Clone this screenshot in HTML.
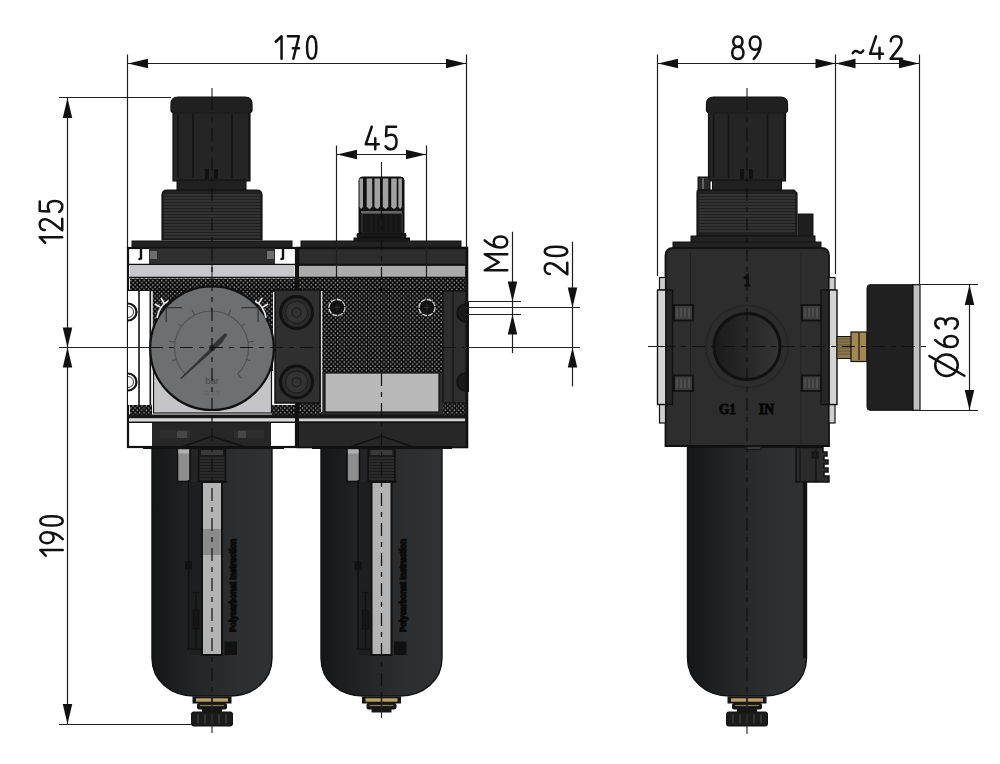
<!DOCTYPE html>
<html><head><meta charset="utf-8"><style>
html,body{margin:0;padding:0;background:#fff;width:1000px;height:764px;overflow:hidden;font-family:"Liberation Sans",sans-serif;}
svg{display:block}
</style></head><body>
<svg width="1000" height="764" viewBox="0 0 1000 764">
<defs>
<pattern id="dots" width="4.4" height="4.4" patternUnits="userSpaceOnUse">
<rect width="4.4" height="4.4" fill="#080808"/><circle cx="1.1" cy="1.1" r="0.8" fill="#a0a0a0"/><circle cx="3.3" cy="3.3" r="0.8" fill="#a0a0a0"/>
</pattern>
<linearGradient id="bowl" x1="0" x2="1" y1="0" y2="0">
<stop offset="0" stop-color="#151617"/><stop offset="0.35" stop-color="#232425"/><stop offset="0.7" stop-color="#2c2e30"/><stop offset="1" stop-color="#2f3133"/>
</linearGradient>
<linearGradient id="port" x1="0" x2="1" y1="0" y2="0">
<stop offset="0" stop-color="#1a1a1a"/><stop offset="1" stop-color="#353535"/>
</linearGradient>
<linearGradient id="knob" x1="0" x2="1" y1="0" y2="0">
<stop offset="0" stop-color="#222"/><stop offset="0.5" stop-color="#2e2e2e"/><stop offset="1" stop-color="#2a2a2a"/>
</linearGradient>
</defs>
<rect width="1000" height="764" fill="#fff"/>

<path d="M173,181 L173,113 L171,111 L171,104 Q171,97 178,97 L245,97 Q252,97 252,104 L252,111 L250,113 L250,181 Z" fill="#202020" stroke="#111" stroke-width="1.2"/>
<rect x="174" y="113.5" width="75" height="66.5" fill="#252525"/>
<line x1="178" y1="114" x2="178" y2="178" stroke="#141414" stroke-width="1.6" />
<line x1="193" y1="114" x2="193" y2="178" stroke="#141414" stroke-width="1.6" />
<line x1="232" y1="114" x2="232" y2="178" stroke="#141414" stroke-width="1.6" />
<line x1="249" y1="114" x2="249" y2="178" stroke="#141414" stroke-width="1.6" />
<line x1="174" y1="113" x2="249" y2="113" stroke="#1a1a1a" stroke-width="1" />
<rect x="205" y="169" width="4" height="10" fill="#111" />
<rect x="214" y="169" width="4" height="10" fill="#111" />
<rect x="177" y="180" width="69" height="10" fill="#202020" stroke="#111" stroke-width="1"/>
<path d="M162,240 L162,195 Q162,190 167,190 L257,190 Q262,190 262,195 L262,240 Z" fill="#202020" stroke="#111" stroke-width="1.2"/>
<line x1="164" y1="195" x2="260" y2="195" stroke="#444" stroke-width="1.0" />
<line x1="164" y1="198.0" x2="260" y2="198.0" stroke="#444" stroke-width="1.0" />
<line x1="164" y1="201.0" x2="260" y2="201.0" stroke="#444" stroke-width="1.0" />
<line x1="164" y1="204.0" x2="260" y2="204.0" stroke="#444" stroke-width="1.0" />
<line x1="164" y1="207.0" x2="260" y2="207.0" stroke="#444" stroke-width="1.0" />
<line x1="164" y1="210.0" x2="260" y2="210.0" stroke="#444" stroke-width="1.0" />
<line x1="164" y1="213.0" x2="260" y2="213.0" stroke="#444" stroke-width="1.0" />
<line x1="164" y1="216.0" x2="260" y2="216.0" stroke="#444" stroke-width="1.0" />
<line x1="164" y1="219.0" x2="260" y2="219.0" stroke="#444" stroke-width="1.0" />
<line x1="164" y1="222.0" x2="260" y2="222.0" stroke="#444" stroke-width="1.0" />
<line x1="164" y1="225.0" x2="260" y2="225.0" stroke="#444" stroke-width="1.0" />
<line x1="164" y1="228.0" x2="260" y2="228.0" stroke="#444" stroke-width="1.0" />
<line x1="164" y1="231.0" x2="260" y2="231.0" stroke="#444" stroke-width="1.0" />
<line x1="164" y1="234.0" x2="260" y2="234.0" stroke="#444" stroke-width="1.0" />
<line x1="164" y1="237.0" x2="260" y2="237.0" stroke="#444" stroke-width="1.0" />
<rect x="132" y="241" width="160" height="7" fill="#232323" stroke="#111" stroke-width="1"/>
<rect x="128" y="248" width="168" height="199" fill="#fff" stroke="#111" stroke-width="2.2" />
<rect x="149" y="248.5" width="126" height="16" fill="#2f2f2f" />
<rect x="150" y="251" width="7" height="8" fill="#6e6e6e" />
<rect x="267" y="251" width="7" height="8" fill="#6e6e6e" />
<path d="M141,249.5 L141,258.5 L139.5,259" fill="none" stroke="#111" stroke-width="2.4" stroke-linecap="round"/>
<path d="M283,249.5 L283,258.5 L281.5,259" fill="none" stroke="#111" stroke-width="2.4" stroke-linecap="round"/>
<line x1="128" y1="264.5" x2="296" y2="264.5" stroke="#111" stroke-width="1.6" />
<rect x="130" y="266" width="164" height="11" fill="#c8c8cc" />
<line x1="212" y1="265" x2="212" y2="277" stroke="#444" stroke-width="1.2" />
<line x1="128" y1="277.5" x2="296" y2="277.5" stroke="#111" stroke-width="1.6" />
<rect x="130" y="278.5" width="165" height="12" fill="url(#dots)" />
<line x1="128" y1="290.8" x2="296" y2="290.8" stroke="#111" stroke-width="2" />
<line x1="128" y1="404.5" x2="152" y2="404.5" stroke="#111" stroke-width="2" />
<rect x="128" y="291" width="22" height="114" fill="#fff" />
<line x1="139" y1="291" x2="139" y2="405" stroke="#111" stroke-width="1.6" />
<line x1="150.5" y1="291" x2="150.5" y2="405" stroke="#111" stroke-width="2" />
<path d="M128,303.5 A8.5,8.5 0 0 1 128,320.5" fill="none" stroke="#111" stroke-width="2.2"/>
<path d="M128,306.5 A5.5,5.5 0 0 1 128,317.5" fill="none" stroke="#333" stroke-width="1"/>
<path d="M128,373.5 A8.5,8.5 0 0 1 128,390.5" fill="none" stroke="#111" stroke-width="2.2"/>
<path d="M128,376.5 A5.5,5.5 0 0 1 128,387.5" fill="none" stroke="#333" stroke-width="1"/>
<rect x="152" y="291" width="121" height="80" fill="url(#dots)" />
<rect x="153.5" y="365" width="118" height="48" fill="#c5c5c7" stroke="#111" stroke-width="1.2" />
<line x1="152" y1="291" x2="152" y2="413" stroke="#f0f0f0" stroke-width="1.5" />
<circle cx="212" cy="348.2" r="61.8" fill="#6d6f71" stroke="#111" stroke-width="2.2"/>
<path d="M185.3,374.2 A37,37 0 1 1 237.7,374.2" fill="none" stroke="#505254" stroke-width="1.1"/>
<line x1="185.3" y1="374.2" x2="181.1" y2="378.4" stroke="#4a4c4e" stroke-width="1.1" />
<line x1="176.3" y1="359.4" x2="172.5" y2="360.7" stroke="#4a4c4e" stroke-width="1.1" />
<line x1="175.0" y1="342.2" x2="169.0" y2="341.3" stroke="#4a4c4e" stroke-width="1.1" />
<line x1="181.6" y1="326.3" x2="178.3" y2="323.9" stroke="#4a4c4e" stroke-width="1.1" />
<line x1="194.7" y1="315.0" x2="192.0" y2="309.7" stroke="#4a4c4e" stroke-width="1.1" />
<line x1="211.5" y1="311.0" x2="211.5" y2="307.0" stroke="#4a4c4e" stroke-width="1.1" />
<line x1="228.3" y1="315.0" x2="231.0" y2="309.7" stroke="#4a4c4e" stroke-width="1.1" />
<line x1="241.4" y1="326.3" x2="244.7" y2="323.9" stroke="#4a4c4e" stroke-width="1.1" />
<line x1="248.0" y1="342.2" x2="254.0" y2="341.3" stroke="#4a4c4e" stroke-width="1.1" />
<line x1="246.7" y1="359.4" x2="250.5" y2="360.7" stroke="#4a4c4e" stroke-width="1.1" />
<line x1="237.7" y1="374.2" x2="241.9" y2="378.4" stroke="#4a4c4e" stroke-width="1.1" />
<path d="M182,307.6 L166.2,307.6 L166.2,322 M241.3,307.6 L258.1,307.6 L258.1,322" fill="none" stroke="#333" stroke-width="1.2"/>
<path d="M157,318 Q159,306 168,301 M160,307 L155,304 M164,303 L161,298" fill="none" stroke="#e8e8e8" stroke-width="1.6"/>
<path d="M266,318 Q264,306 255,301 M263,307 L268,304 M259,303 L262,298" fill="none" stroke="#e8e8e8" stroke-width="1.6"/>
<path d="M181.2,378.3 L220,340 L226,334 L222,342 Z" fill="#333436" stroke="#333436" stroke-width="1.2" stroke-linejoin="round"/>
<path d="M212,348 L226,334.5" stroke="#333436" stroke-width="3.5"/>
<circle cx="212" cy="348" r="3" fill="#2a2a2a"/>
<text x="212" y="383.5" font-size="9.5" fill="#45474a" text-anchor="middle" font-family="Liberation Sans">bar</text>
<text x="212" y="395" font-size="6" fill="#5e6062" text-anchor="middle" font-family="Liberation Sans">Cl.2.5</text>
<rect x="130" y="405" width="22" height="10" fill="url(#dots)" />
<rect x="272" y="405" width="23" height="10" fill="url(#dots)" />
<rect x="128" y="414.5" width="168" height="4" fill="#161616" />
<rect x="130" y="418.5" width="165" height="3" fill="#d8d8d8" />
<line x1="128" y1="422.2" x2="296" y2="422.2" stroke="#111" stroke-width="1.6" />
<rect x="152" y="423" width="119" height="23.5" fill="#262626" />
<rect x="160" y="430" width="30" height="8" fill="#2e2e2e" />
<rect x="234" y="430" width="30" height="8" fill="#2e2e2e" />
<rect x="177" y="431" width="10" height="7" fill="#474747" />
<rect x="238" y="431" width="8" height="7" fill="#474747" />
<path d="M182.8,446.5 L212,436.3 L244,446.5" fill="none" stroke="#111" stroke-width="1.4"/>
<rect x="359" y="177" width="45" height="58" rx="3.5" fill="#121212" stroke="#0d0d0d" stroke-width="1"/>
<path d="M359.5,178.5 L363.0,178.5 L363.0,206.5 Q361.25,211 359.5,206.5 Z" fill="#a2a2a2"/>
<path d="M366.7,178.5 L372.2,178.5 L372.2,206.5 Q369.45,211 366.7,206.5 Z" fill="#a2a2a2"/>
<path d="M374.5,178.5 L380.0,178.5 L380.0,206.5 Q377.25,211 374.5,206.5 Z" fill="#a2a2a2"/>
<path d="M382.8,178.5 L388.3,178.5 L388.3,206.5 Q385.55,211 382.8,206.5 Z" fill="#a2a2a2"/>
<path d="M391.2,178.5 L396.7,178.5 L396.7,206.5 Q393.95,211 391.2,206.5 Z" fill="#a2a2a2"/>
<path d="M398.4,178.5 L401.9,178.5 L401.9,206.5 Q400.15,211 398.4,206.5 Z" fill="#a2a2a2"/>
<line x1="361" y1="212" x2="402" y2="212" stroke="#bbb" stroke-width="1" />
<rect x="362" y="213.5" width="40" height="19.5" fill="#151515" stroke="#555" stroke-width="0.8"/>
<line x1="366" y1="215" x2="366" y2="232" stroke="#262626" stroke-width="0.7" />
<line x1="371" y1="215" x2="371" y2="232" stroke="#262626" stroke-width="0.7" />
<line x1="376" y1="215" x2="376" y2="232" stroke="#262626" stroke-width="0.7" />
<line x1="381" y1="215" x2="381" y2="232" stroke="#262626" stroke-width="0.7" />
<line x1="386" y1="215" x2="386" y2="232" stroke="#262626" stroke-width="0.7" />
<line x1="391" y1="215" x2="391" y2="232" stroke="#262626" stroke-width="0.7" />
<line x1="396" y1="215" x2="396" y2="232" stroke="#262626" stroke-width="0.7" />
<line x1="401" y1="215" x2="401" y2="232" stroke="#262626" stroke-width="0.7" />
<rect x="357" y="233" width="49" height="5" rx="2" fill="#171717" stroke="#0d0d0d" stroke-width="1"/>
<rect x="354" y="238" width="55.5" height="4" fill="#1b1b1b" stroke="#0d0d0d" stroke-width="1"/>
<rect x="301" y="241" width="160" height="7" fill="#232323" stroke="#111" stroke-width="1"/>
<rect x="298" y="248" width="169" height="199" fill="#2c2c2c" stroke="#111" stroke-width="2.6" />
<line x1="298" y1="264.5" x2="466" y2="264.5" stroke="#111" stroke-width="1.6" />
<rect x="299" y="266" width="166" height="11" fill="#ababab" />
<line x1="298" y1="277.5" x2="466" y2="277.5" stroke="#111" stroke-width="1.6" />
<rect x="299" y="278.5" width="166" height="12" fill="url(#dots)" />
<line x1="298" y1="290.5" x2="466" y2="290.5" stroke="#111" stroke-width="1.2" />
<line x1="296.7" y1="248" x2="296.7" y2="447" stroke="#111" stroke-width="3.4" />
<rect x="321" y="291" width="122" height="82" fill="url(#dots)" />
<line x1="321.5" y1="291" x2="321.5" y2="412" stroke="#ddd" stroke-width="1.5" />
<rect x="325" y="373" width="114" height="39" fill="#b9b9b9" stroke="#111" stroke-width="1.2" />
<rect x="299" y="403" width="22" height="12" fill="url(#dots)" />
<rect x="443" y="403" width="22" height="12" fill="url(#dots)" />
<rect x="443" y="291" width="23" height="112" fill="#2d2d2d" stroke="#111" stroke-width="1.2" />
<line x1="453" y1="291" x2="453" y2="403" stroke="#111" stroke-width="1.2" />
<path d="M466,304 A9,9 0 0 0 466,322 Z" fill="#1a1a1a" stroke="#111" stroke-width="1.5"/>
<path d="M466,373 A9,9 0 0 0 466,391 Z" fill="#1a1a1a" stroke="#111" stroke-width="1.5"/>
<line x1="467.5" y1="302" x2="467.5" y2="392" stroke="#111" stroke-width="3" />
<circle cx="337" cy="307.5" r="8" fill="#121212" stroke="#d8d8d8" stroke-width="1.3" stroke-dasharray="5 1.2"/>
<path d="M334,307.5 L340,307.5 M337,304.5 L337,310.5" stroke="#333" stroke-width="0.9"/>
<circle cx="427" cy="307.5" r="8" fill="#121212" stroke="#d8d8d8" stroke-width="1.3" stroke-dasharray="5 1.2"/>
<path d="M424,307.5 L430,307.5 M427,304.5 L427,310.5" stroke="#333" stroke-width="0.9"/>
<rect x="298" y="414.5" width="168" height="4" fill="#161616" />
<rect x="299" y="418.5" width="166" height="3" fill="#d0d0d0" />
<line x1="298" y1="422.2" x2="466" y2="422.2" stroke="#111" stroke-width="1.6" />
<rect x="299" y="423" width="166" height="23.5" fill="#272727" />
<path d="M351,446.5 L381.5,436 L412,446.5" fill="none" stroke="#111" stroke-width="1.4"/>
<rect x="275" y="290" width="45" height="113" fill="#2f2f2f" stroke="#111" stroke-width="1.5" />
<circle cx="296.5" cy="312.5" r="16" fill="#2b2b2b" stroke="#111" stroke-width="3"/>
<circle cx="296.5" cy="312.5" r="11" fill="#333" stroke="#1a1a1a" stroke-width="1"/>
<polygon points="300.8,315.0 296.5,317.5 292.2,315.0 292.2,310.0 296.5,307.5 300.8,310.0" fill="none" stroke="#1a1a1a" stroke-width="1"/>
<circle cx="296.5" cy="382" r="16" fill="#2b2b2b" stroke="#111" stroke-width="3"/>
<circle cx="296.5" cy="382" r="11" fill="#333" stroke="#1a1a1a" stroke-width="1"/>
<polygon points="300.8,384.5 296.5,387.0 292.2,384.5 292.2,379.5 296.5,377.0 300.8,379.5" fill="none" stroke="#1a1a1a" stroke-width="1"/>
<path d="M152,447 L272,447 L272,658 C272,680.8 253.1,696 230,696 L194,696 C170.9,696 152,680.8 152,658 Z" fill="url(#bowl)" stroke="#111" stroke-width="1.4"/>
<rect x="198.5" y="448.5" width="27" height="33.5" fill="#1a1a1a" stroke="#111" stroke-width="1.4" />
<rect x="201" y="450" width="22" height="5" fill="#3a3a3a" />
<line x1="199.5" y1="458" x2="224.5" y2="458" stroke="#3c3c3c" stroke-width="1.0" />
<line x1="199.5" y1="461" x2="224.5" y2="461" stroke="#3c3c3c" stroke-width="1.0" />
<line x1="199.5" y1="464" x2="224.5" y2="464" stroke="#3c3c3c" stroke-width="1.0" />
<line x1="199.5" y1="467" x2="224.5" y2="467" stroke="#3c3c3c" stroke-width="1.0" />
<line x1="199.5" y1="470" x2="224.5" y2="470" stroke="#3c3c3c" stroke-width="1.0" />
<line x1="199.5" y1="473" x2="224.5" y2="473" stroke="#3c3c3c" stroke-width="1.0" />
<line x1="199.5" y1="476" x2="224.5" y2="476" stroke="#3c3c3c" stroke-width="1.0" />
<line x1="199.5" y1="479" x2="224.5" y2="479" stroke="#3c3c3c" stroke-width="1.0" />
<line x1="196.5" y1="481.8" x2="227.5" y2="481.8" stroke="#111" stroke-width="1.5" />
<rect x="190" y="482" width="12" height="173" fill="#1d1e1f" />
<rect x="202" y="482" width="20" height="173" fill="#b3b3b3" stroke="#111" stroke-width="2" />
<rect x="177.5" y="448.5" width="12.5" height="33" fill="#8e8e8e" stroke="#111" stroke-width="1.6" />
<rect x="178.5" y="449.5" width="10.5" height="4" fill="#b0b0b0" />
<line x1="188.5" y1="480" x2="188.5" y2="649" stroke="#111" stroke-width="1.6" />
<rect x="185" y="561" width="7" height="8.5" fill="#111" />
<line x1="196" y1="592" x2="196" y2="649" stroke="#111" stroke-width="1.3" />
<line x1="193" y1="592.5" x2="199" y2="592.5" stroke="#111" stroke-width="1.3" />
<rect x="193" y="610" width="6" height="19" fill="#151515" stroke="#111" stroke-width="1" />
<line x1="187" y1="649" x2="201" y2="649" stroke="#111" stroke-width="1.5" />
<rect x="224.5" y="641.5" width="12.5" height="13.5" fill="#111" />
<text transform="translate(236.2,632) rotate(-90)" font-size="8.5" font-weight="bold" fill="#0a0a0a" stroke="#0a0a0a" stroke-width="1.3" font-family="Liberation Sans" textLength="93" lengthAdjust="spacingAndGlyphs">Polycarbonat Instruction</text>
<rect x="203.2" y="529" width="17.6" height="26" fill="#8a8a8a" />
<line x1="143" y1="447.5" x2="284" y2="447.5" stroke="#111" stroke-width="3" />
<rect x="192.5" y="696.5" width="39" height="7" fill="#141414" />
<rect x="196" y="698.3" width="15.3" height="3.4" fill="#b8a06a" />
<rect x="212.7" y="698.3" width="15.3" height="3.4" fill="#b8a06a" />
<rect x="197" y="703" width="30" height="6.5" rx="2" fill="#161616"/>
<line x1="200" y1="705.5" x2="224" y2="705.5" stroke="#8a7a55" stroke-width="1.2" />
<rect x="202" y="709" width="20" height="3.5" fill="#161616" />
<rect x="191.5" y="712" width="41" height="14" rx="2" fill="#1a1a1a" stroke="#111" stroke-width="1"/>
<line x1="198" y1="714.5" x2="198" y2="723.5" stroke="#4a4a4a" stroke-width="1.1" />
<line x1="205" y1="714.5" x2="205" y2="723.5" stroke="#4a4a4a" stroke-width="1.1" />
<line x1="212" y1="714.5" x2="212" y2="723.5" stroke="#4a4a4a" stroke-width="1.1" />
<line x1="219" y1="714.5" x2="219" y2="723.5" stroke="#4a4a4a" stroke-width="1.1" />
<line x1="226" y1="714.5" x2="226" y2="723.5" stroke="#4a4a4a" stroke-width="1.1" />
<path d="M321,447 L442,447 L442,658 C442,680.8 423.1,696 400,696 L363,696 C339.9,696 321,680.8 321,658 Z" fill="url(#bowl)" stroke="#111" stroke-width="1.4"/>
<rect x="368.0" y="448.5" width="27" height="33.5" fill="#1a1a1a" stroke="#111" stroke-width="1.4" />
<rect x="370.5" y="450" width="22" height="5" fill="#3a3a3a" />
<line x1="369.0" y1="458" x2="394.0" y2="458" stroke="#3c3c3c" stroke-width="1.0" />
<line x1="369.0" y1="461" x2="394.0" y2="461" stroke="#3c3c3c" stroke-width="1.0" />
<line x1="369.0" y1="464" x2="394.0" y2="464" stroke="#3c3c3c" stroke-width="1.0" />
<line x1="369.0" y1="467" x2="394.0" y2="467" stroke="#3c3c3c" stroke-width="1.0" />
<line x1="369.0" y1="470" x2="394.0" y2="470" stroke="#3c3c3c" stroke-width="1.0" />
<line x1="369.0" y1="473" x2="394.0" y2="473" stroke="#3c3c3c" stroke-width="1.0" />
<line x1="369.0" y1="476" x2="394.0" y2="476" stroke="#3c3c3c" stroke-width="1.0" />
<line x1="369.0" y1="479" x2="394.0" y2="479" stroke="#3c3c3c" stroke-width="1.0" />
<line x1="366.0" y1="481.8" x2="397.0" y2="481.8" stroke="#111" stroke-width="1.5" />
<rect x="359.5" y="482" width="12" height="173" fill="#1d1e1f" />
<rect x="371.5" y="482" width="20" height="173" fill="#b3b3b3" stroke="#111" stroke-width="2" />
<rect x="347.0" y="448.5" width="12.5" height="33" fill="#8e8e8e" stroke="#111" stroke-width="1.6" />
<rect x="348.0" y="449.5" width="10.5" height="4" fill="#b0b0b0" />
<line x1="358.0" y1="480" x2="358.0" y2="649" stroke="#111" stroke-width="1.6" />
<rect x="354.5" y="561" width="7" height="8.5" fill="#111" />
<line x1="365.5" y1="592" x2="365.5" y2="649" stroke="#111" stroke-width="1.3" />
<line x1="362.5" y1="592.5" x2="368.5" y2="592.5" stroke="#111" stroke-width="1.3" />
<rect x="362.5" y="610" width="6" height="19" fill="#151515" stroke="#111" stroke-width="1" />
<line x1="356.5" y1="649" x2="370.5" y2="649" stroke="#111" stroke-width="1.5" />
<rect x="394.0" y="641.5" width="12.5" height="13.5" fill="#111" />
<text transform="translate(405.7,632) rotate(-90)" font-size="8.5" font-weight="bold" fill="#0a0a0a" stroke="#0a0a0a" stroke-width="1.3" font-family="Liberation Sans" textLength="93" lengthAdjust="spacingAndGlyphs">Polycarbonat Instruction</text>
<line x1="312" y1="447.5" x2="452" y2="447.5" stroke="#111" stroke-width="3" />
<rect x="362.0" y="696.5" width="39" height="7" fill="#141414" />
<rect x="365.5" y="698.3" width="15.3" height="3.4" fill="#b8a06a" />
<rect x="382.2" y="698.3" width="15.3" height="3.4" fill="#b8a06a" />
<rect x="366.5" y="703" width="30" height="6.5" rx="2" fill="#161616"/>
<line x1="369.5" y1="705.5" x2="393.5" y2="705.5" stroke="#8a7a55" stroke-width="1.2" />
<rect x="371.5" y="709" width="20" height="3.5" fill="#161616" />
<path d="M708.5,181 L708.5,113 L706.5,111 L706.5,104 Q706.5,97 713.5,97 L780.5,97 Q787.5,97 787.5,104 L787.5,111 L785.5,113 L785.5,181 Z" fill="#202020" stroke="#111" stroke-width="1.2"/>
<rect x="709.5" y="113.5" width="75" height="66.5" fill="#252525"/>
<line x1="713.5" y1="114" x2="713.5" y2="178" stroke="#141414" stroke-width="1.6" />
<line x1="728.5" y1="114" x2="728.5" y2="178" stroke="#141414" stroke-width="1.6" />
<line x1="767.5" y1="114" x2="767.5" y2="178" stroke="#141414" stroke-width="1.6" />
<line x1="784.5" y1="114" x2="784.5" y2="178" stroke="#141414" stroke-width="1.6" />
<line x1="709.5" y1="113" x2="784.5" y2="113" stroke="#1a1a1a" stroke-width="1" />
<rect x="740" y="169" width="4" height="10" fill="#111" />
<rect x="749" y="169" width="4" height="10" fill="#111" />
<rect x="712.5" y="180" width="69" height="10" fill="#202020" stroke="#111" stroke-width="1"/>
<rect x="698" y="177" width="12" height="13" fill="#2a2a2a" stroke="#111" stroke-width="1" />
<line x1="703" y1="178" x2="703" y2="189" stroke="#777" stroke-width="1.5" />
<path d="M697,236 L697,192 Q697,190 699,190 L794,190 L797,193 L797,236 Z" fill="#202020" stroke="#111" stroke-width="1.2"/>
<line x1="699" y1="195" x2="795" y2="195" stroke="#444" stroke-width="1.0" />
<line x1="699" y1="198.0" x2="795" y2="198.0" stroke="#444" stroke-width="1.0" />
<line x1="699" y1="201.0" x2="795" y2="201.0" stroke="#444" stroke-width="1.0" />
<line x1="699" y1="204.0" x2="795" y2="204.0" stroke="#444" stroke-width="1.0" />
<line x1="699" y1="207.0" x2="795" y2="207.0" stroke="#444" stroke-width="1.0" />
<line x1="699" y1="210.0" x2="795" y2="210.0" stroke="#444" stroke-width="1.0" />
<line x1="699" y1="213.0" x2="795" y2="213.0" stroke="#444" stroke-width="1.0" />
<line x1="699" y1="216.0" x2="795" y2="216.0" stroke="#444" stroke-width="1.0" />
<line x1="699" y1="219.0" x2="795" y2="219.0" stroke="#444" stroke-width="1.0" />
<line x1="699" y1="222.0" x2="795" y2="222.0" stroke="#444" stroke-width="1.0" />
<line x1="699" y1="225.0" x2="795" y2="225.0" stroke="#444" stroke-width="1.0" />
<line x1="699" y1="228.0" x2="795" y2="228.0" stroke="#444" stroke-width="1.0" />
<line x1="699" y1="231.0" x2="795" y2="231.0" stroke="#444" stroke-width="1.0" />
<rect x="798" y="214" width="15" height="24" fill="#1e1e1e" stroke="#111" stroke-width="1" />
<rect x="691" y="236" width="124" height="7" fill="#232323" stroke="#111" stroke-width="1" />
<rect x="673" y="242" width="148" height="6.5" fill="#222" stroke="#111" stroke-width="1" />
<path d="M665.5,446 L665.5,256 Q665.5,248 673.5,248 L821,248 Q829,248 829,256 L829,446 Z" fill="#2d2d2d" stroke="#111" stroke-width="1.8"/>
<line x1="690.5" y1="252" x2="690.5" y2="444" stroke="#222" stroke-width="1" />
<line x1="801" y1="252" x2="801" y2="444" stroke="#222" stroke-width="1" />
<rect x="659.5" y="277.5" width="6.0" height="12.5" fill="#cfcfcf" stroke="#111" stroke-width="1.2" />
<rect x="659.5" y="404.5" width="6.0" height="18.5" fill="#cfcfcf" stroke="#111" stroke-width="1.2" />
<rect x="829" y="277.5" width="6" height="12.5" fill="#cfcfcf" stroke="#111" stroke-width="1.2" />
<rect x="829" y="404.5" width="6" height="18.5" fill="#cfcfcf" stroke="#111" stroke-width="1.2" />
<rect x="657.5" y="290" width="8.5" height="114.5" fill="#d4d4d4" stroke="#111" stroke-width="1.4" />
<rect x="666" y="290" width="6.5" height="114.5" fill="#262626" stroke="#111" stroke-width="1.4" />
<rect x="829" y="290" width="8" height="114.5" fill="#d4d4d4" stroke="#111" stroke-width="1.4" />
<rect x="821" y="290" width="8" height="114.5" fill="#262626" stroke="#111" stroke-width="1.4" />
<rect x="674" y="305" width="19" height="15.5" fill="#3c3c3c" stroke="#111" stroke-width="1.8" />
<line x1="677" y1="308" x2="677" y2="317.5" stroke="#5a5a5a" stroke-width="1.2" />
<line x1="681" y1="308" x2="681" y2="317.5" stroke="#5a5a5a" stroke-width="1.2" />
<line x1="685" y1="308" x2="685" y2="317.5" stroke="#5a5a5a" stroke-width="1.2" />
<line x1="689" y1="308" x2="689" y2="317.5" stroke="#5a5a5a" stroke-width="1.2" />
<rect x="674" y="375.5" width="19" height="15.5" fill="#3c3c3c" stroke="#111" stroke-width="1.8" />
<line x1="677" y1="378.5" x2="677" y2="388.0" stroke="#5a5a5a" stroke-width="1.2" />
<line x1="681" y1="378.5" x2="681" y2="388.0" stroke="#5a5a5a" stroke-width="1.2" />
<line x1="685" y1="378.5" x2="685" y2="388.0" stroke="#5a5a5a" stroke-width="1.2" />
<line x1="689" y1="378.5" x2="689" y2="388.0" stroke="#5a5a5a" stroke-width="1.2" />
<rect x="802" y="305" width="19" height="15.5" fill="#3c3c3c" stroke="#111" stroke-width="1.8" />
<line x1="805" y1="308" x2="805" y2="317.5" stroke="#5a5a5a" stroke-width="1.2" />
<line x1="809" y1="308" x2="809" y2="317.5" stroke="#5a5a5a" stroke-width="1.2" />
<line x1="813" y1="308" x2="813" y2="317.5" stroke="#5a5a5a" stroke-width="1.2" />
<line x1="817" y1="308" x2="817" y2="317.5" stroke="#5a5a5a" stroke-width="1.2" />
<rect x="802" y="375.5" width="19" height="15.5" fill="#3c3c3c" stroke="#111" stroke-width="1.8" />
<line x1="805" y1="378.5" x2="805" y2="388.0" stroke="#5a5a5a" stroke-width="1.2" />
<line x1="809" y1="378.5" x2="809" y2="388.0" stroke="#5a5a5a" stroke-width="1.2" />
<line x1="813" y1="378.5" x2="813" y2="388.0" stroke="#5a5a5a" stroke-width="1.2" />
<line x1="817" y1="378.5" x2="817" y2="388.0" stroke="#5a5a5a" stroke-width="1.2" />
<circle cx="747" cy="346.5" r="41" fill="none" stroke="#262626" stroke-width="1.5"/>
<circle cx="747" cy="346.5" r="33" fill="url(#port)" stroke="#111" stroke-width="3"/>
<path d="M744,278.5 L747.5,275.5 L747.5,285 M744.5,285.5 L750.5,285.5" fill="none" stroke="#0d0d0d" stroke-width="2.6"/>
<text x="727.5" y="413.5" font-size="14" font-weight="bold" fill="#050505" stroke="#050505" stroke-width="0.8" text-anchor="middle" font-family="Liberation Serif" textLength="17" lengthAdjust="spacingAndGlyphs">G1</text>
<text x="766.5" y="413.5" font-size="14" font-weight="bold" fill="#050505" stroke="#050505" stroke-width="0.8" text-anchor="middle" font-family="Liberation Serif" textLength="15" lengthAdjust="spacingAndGlyphs">IN</text>
<path d="M687.5,447 L806.5,447 L806.5,658 C806.5,680.8 787.6,696 764.5,696 L729.5,696 C706.4,696 687.5,680.8 687.5,658 Z" fill="url(#bowl)" stroke="#111" stroke-width="1.4"/>
<line x1="804.5" y1="447" x2="804.5" y2="658" stroke="#111" stroke-width="3" />
<path d="M796,447.5 L823,447.5 L823,452 L827,452 L827,456 L824,456 L824,460 L828,460 L828,464 L824,464 L824,468 L828,468 L828,472 L824,472 L824,476 L829,476 L829,482 L796,482 Z" fill="#2a2a2a" stroke="#111" stroke-width="1.5"/>
<line x1="800" y1="449" x2="800" y2="481" stroke="#111" stroke-width="1" />
<line x1="816" y1="449" x2="816" y2="481" stroke="#111" stroke-width="1.2" />
<rect x="812" y="452" width="6" height="6" fill="#1a1a1a" stroke="#111" stroke-width="1" />
<rect x="745" y="446.5" width="16" height="3" fill="#3a3a3a" stroke="#111" stroke-width="0.8" />
<rect x="727.5" y="696.5" width="39" height="7" fill="#141414" />
<rect x="731" y="698.3" width="15.3" height="3.4" fill="#b8a06a" />
<rect x="747.7" y="698.3" width="15.3" height="3.4" fill="#b8a06a" />
<rect x="732" y="703" width="30" height="6.5" rx="2" fill="#161616"/>
<line x1="735" y1="705.5" x2="759" y2="705.5" stroke="#8a7a55" stroke-width="1.2" />
<rect x="737" y="709" width="20" height="3.5" fill="#161616" />
<rect x="726.5" y="712" width="41" height="14" rx="2" fill="#1a1a1a" stroke="#111" stroke-width="1"/>
<line x1="733" y1="714.5" x2="733" y2="723.5" stroke="#4a4a4a" stroke-width="1.1" />
<line x1="740" y1="714.5" x2="740" y2="723.5" stroke="#4a4a4a" stroke-width="1.1" />
<line x1="747" y1="714.5" x2="747" y2="723.5" stroke="#4a4a4a" stroke-width="1.1" />
<line x1="754" y1="714.5" x2="754" y2="723.5" stroke="#4a4a4a" stroke-width="1.1" />
<line x1="761" y1="714.5" x2="761" y2="723.5" stroke="#4a4a4a" stroke-width="1.1" />
<rect x="837" y="336.5" width="15" height="22" fill="#8c7a4e" stroke="#111" stroke-width="1" />
<line x1="838" y1="339" x2="851" y2="339" stroke="#5a4b2a" stroke-width="0.8" />
<line x1="838" y1="342" x2="851" y2="342" stroke="#5a4b2a" stroke-width="0.8" />
<line x1="838" y1="345" x2="851" y2="345" stroke="#5a4b2a" stroke-width="0.8" />
<line x1="838" y1="348" x2="851" y2="348" stroke="#5a4b2a" stroke-width="0.8" />
<line x1="838" y1="351" x2="851" y2="351" stroke="#5a4b2a" stroke-width="0.8" />
<line x1="838" y1="354" x2="851" y2="354" stroke="#5a4b2a" stroke-width="0.8" />
<rect x="851" y="332" width="16" height="29.5" fill="#a08850" stroke="#111" stroke-width="1.2" />
<line x1="859" y1="333" x2="859" y2="360" stroke="#3a2f18" stroke-width="1.5" />
<path d="M870,284.7 L913,284.7 L913,410.3 L870,410.3 Q867,410.3 867,407 L867,288 Q867,284.7 870,284.7 Z" fill="#202020" stroke="#111" stroke-width="1"/>
<rect x="913" y="284.7" width="7" height="125.6" fill="#c0c0c0" stroke="#111" stroke-width="1.2" />
<line x1="212" y1="88" x2="212" y2="98" stroke="#222" stroke-width="1.1" />
<line x1="212" y1="98" x2="212" y2="697" stroke="#111" stroke-width="1.2" stroke-dasharray="13 6 5 6"/>
<line x1="212" y1="697" x2="212" y2="733" stroke="#222" stroke-width="1.1" />
<line x1="381.5" y1="162" x2="381.5" y2="177" stroke="#222" stroke-width="1.1" />
<line x1="381.5" y1="177" x2="381.5" y2="291" stroke="#111" stroke-width="1.2" stroke-dasharray="13 6 5 6"/>
<line x1="381.5" y1="373" x2="381.5" y2="697" stroke="#111" stroke-width="1.2" stroke-dasharray="13 6 5 6"/>
<line x1="381.5" y1="697" x2="381.5" y2="718" stroke="#222" stroke-width="1.1" />
<line x1="747" y1="88" x2="747" y2="98" stroke="#222" stroke-width="1.1" />
<line x1="747" y1="98" x2="747" y2="697" stroke="#111" stroke-width="1.2" stroke-dasharray="13 6 5 6"/>
<line x1="747" y1="697" x2="747" y2="734" stroke="#222" stroke-width="1.1" />
<line x1="59" y1="347.5" x2="150" y2="347.5" stroke="#222" stroke-width="1.1" />
<line x1="150" y1="347.5" x2="321" y2="347.5" stroke="#111" stroke-width="1.2" stroke-dasharray="13 6 5 6"/>
<line x1="443" y1="347.5" x2="467" y2="347.5" stroke="#111" stroke-width="1.2" stroke-dasharray="13 6 5 6"/>
<line x1="467" y1="347.5" x2="580" y2="347.5" stroke="#222" stroke-width="1.1" />
<line x1="648" y1="346.5" x2="662" y2="346.5" stroke="#222" stroke-width="1.1" />
<line x1="662" y1="346.5" x2="929" y2="346.5" stroke="#111" stroke-width="1.2" stroke-dasharray="13 6 5 6"/>
<line x1="127.5" y1="54.5" x2="127.5" y2="248" stroke="#1e1e1e" stroke-width="1.2" />
<line x1="466.5" y1="54.5" x2="466.5" y2="248" stroke="#1e1e1e" stroke-width="1.2" />
<line x1="127.5" y1="63.5" x2="466.5" y2="63.5" stroke="#1e1e1e" stroke-width="1.2" />
<polygon points="128,63.5 148,58.75 148,68.25" fill="#111"/>
<polygon points="466,63.5 446,58.75 446,68.25" fill="#111"/>
<g transform="translate(274.5,35)" fill="none" stroke="#111" stroke-width="2.5" stroke-linecap="round" stroke-linejoin="round"><path d="M0,5.5 L5.8,0 L5.8,22.5" transform="translate(1.25,1.25)"/><path d="M0,0 L11,0 L5.5,22.5 M5,12 L11.2,12" transform="translate(13.35,1.25)"/><path d="M4.6,0 C8,0 9.3,4.5 9.3,11.25 C9.3,18 8,22.5 4.6,22.5 C1.3,22.5 0,18 0,11.25 C0,4.5 1.3,0 4.6,0 Z" transform="translate(32.55,1.25)"/></g>
<line x1="59" y1="97.5" x2="171" y2="97.5" stroke="#1e1e1e" stroke-width="1.2" />
<line x1="59" y1="724.5" x2="192" y2="724.5" stroke="#1e1e1e" stroke-width="1.2" />
<line x1="67.5" y1="97.5" x2="67.5" y2="724.5" stroke="#1e1e1e" stroke-width="1.2" />
<polygon points="67.5,98 62.75,118 72.25,118" fill="#111"/>
<polygon points="67.5,347.5 62.75,327.5 72.25,327.5" fill="#111"/>
<polygon points="67.5,347.5 62.75,367.5 72.25,367.5" fill="#111"/>
<polygon points="67.5,724 62.75,704 72.25,704" fill="#111"/>
<g transform="translate(38.5,244.2) rotate(-90)" fill="none" stroke="#111" stroke-width="2.5" stroke-linecap="round" stroke-linejoin="round"><path d="M0,5.5 L5.8,0 L5.8,22.5" transform="translate(1.25,1.25)"/><path d="M0.3,5 C0.3,2 2.5,0 5.6,0 C8.8,0 11,2 11,5.3 C11,9.5 8,12 0,22.5 L11.5,22.5" transform="translate(13.85,1.25)"/><path d="M10.5,0 L1,0 L0.5,9.5 C2.5,8.5 4,8 5.7,8 C9,8 11,10.5 11,15 C11,19.8 8.8,22.5 5.5,22.5 C3,22.5 1.2,21.5 0,19.5" transform="translate(32.15,1.25)"/></g>
<g transform="translate(39,557) rotate(-90)" fill="none" stroke="#111" stroke-width="2.5" stroke-linecap="round" stroke-linejoin="round"><path d="M0,5.5 L5.8,0 L5.8,22.5" transform="translate(1.25,1.25)"/><path d="M10.8,6.8 C10.8,10.8 8.6,13.4 5.4,13.4 C2.2,13.4 0,10.8 0,6.8 C0,2.6 2.2,0 5.4,0 C8.6,0 10.8,2.6 10.8,6.8 C10.8,13 8.5,18 4,22.5" transform="translate(13.85,1.25)"/><path d="M4.6,0 C8,0 9.3,4.5 9.3,11.25 C9.3,18 8,22.5 4.6,22.5 C1.3,22.5 0,18 0,11.25 C0,4.5 1.3,0 4.6,0 Z" transform="translate(31.45,1.25)"/></g>
<line x1="336.5" y1="145.5" x2="336.5" y2="277" stroke="#1e1e1e" stroke-width="1.2" />
<line x1="426.5" y1="145.5" x2="426.5" y2="277" stroke="#1e1e1e" stroke-width="1.2" />
<line x1="336.5" y1="154.5" x2="426.5" y2="154.5" stroke="#1e1e1e" stroke-width="1.2" />
<polygon points="337,154.5 357,149.75 357,159.25" fill="#111"/>
<polygon points="426,154.5 406,149.75 406,159.25" fill="#111"/>
<g transform="translate(364.5,125.5)" fill="none" stroke="#111" stroke-width="2.5" stroke-linecap="round" stroke-linejoin="round"><path d="M6,0 L0,17.5 L13,17.5 M9.5,11.5 L9.5,22.5" transform="translate(1.25,1.25)"/><path d="M10.5,0 L1,0 L0.5,9.5 C2.5,8.5 4,8 5.7,8 C9,8 11,10.5 11,15 C11,19.8 8.8,22.5 5.5,22.5 C3,22.5 1.2,21.5 0,19.5" transform="translate(21.05,1.25)"/></g>
<line x1="466" y1="301.5" x2="521" y2="301.5" stroke="#1e1e1e" stroke-width="1.2" />
<line x1="466" y1="307.5" x2="580" y2="307.5" stroke="#1e1e1e" stroke-width="1.2" />
<line x1="466" y1="314.5" x2="521" y2="314.5" stroke="#1e1e1e" stroke-width="1.2" />
<line x1="512.5" y1="231.7" x2="512.5" y2="353" stroke="#1e1e1e" stroke-width="1.2" />
<polygon points="512.5,301.5 507.75,281.5 517.25,281.5" fill="#111"/>
<polygon points="512.5,314.5 507.75,334.5 517.25,334.5" fill="#111"/>
<line x1="572.5" y1="241.7" x2="572.5" y2="386.4" stroke="#1e1e1e" stroke-width="1.2" />
<polygon points="572.5,307.5 567.75,287.5 577.25,287.5" fill="#111"/>
<polygon points="572.5,347.5 567.75,367.5 577.25,367.5" fill="#111"/>
<g transform="translate(483.5,271.5) rotate(-90)" fill="none" stroke="#111" stroke-width="2.5" stroke-linecap="round" stroke-linejoin="round"><path d="M0,22.5 L0,0 L8,14 L16,0 L16,22.5" transform="translate(1.25,1.25)"/><path d="M0,15.7 C0,11.7 2.2,9 5.5,9 C8.8,9 11,11.7 11,15.7 C11,19.9 8.8,22.5 5.5,22.5 C2.2,22.5 0,19.9 0,15.7 C0,9.5 2.5,4.5 7,0" transform="translate(24.05,1.25)"/></g>
<g transform="translate(543.5,275.5) rotate(-90)" fill="none" stroke="#111" stroke-width="2.5" stroke-linecap="round" stroke-linejoin="round"><path d="M0.3,5 C0.3,2 2.5,0 5.6,0 C8.8,0 11,2 11,5.3 C11,9.5 8,12 0,22.5 L11.5,22.5" transform="translate(1.25,1.25)"/><path d="M4.6,0 C8,0 9.3,4.5 9.3,11.25 C9.3,18 8,22.5 4.6,22.5 C1.3,22.5 0,18 0,11.25 C0,4.5 1.3,0 4.6,0 Z" transform="translate(19.55,1.25)"/></g>
<line x1="657.5" y1="54.5" x2="657.5" y2="276" stroke="#1e1e1e" stroke-width="1.2" />
<line x1="835.5" y1="54.5" x2="835.5" y2="274" stroke="#1e1e1e" stroke-width="1.2" />
<line x1="919.5" y1="54.5" x2="919.5" y2="285" stroke="#1e1e1e" stroke-width="1.2" />
<line x1="657.5" y1="63.5" x2="919.5" y2="63.5" stroke="#1e1e1e" stroke-width="1.2" />
<polygon points="658,63.5 678,58.75 678,68.25" fill="#111"/>
<polygon points="835.5,63.5 815.5,58.75 815.5,68.25" fill="#111"/>
<polygon points="835.5,63.5 855.5,58.75 855.5,68.25" fill="#111"/>
<polygon points="919,63.5 899,58.75 899,68.25" fill="#111"/>
<g transform="translate(731,35.2)" fill="none" stroke="#111" stroke-width="2.5" stroke-linecap="round" stroke-linejoin="round"><path d="M5.6,10.2 C2.6,10.2 1,8.3 1,5.1 C1,2 2.9,0 5.6,0 C8.3,0 10.2,2 10.2,5.1 C10.2,8.3 8.6,10.2 5.6,10.2 C2.3,10.2 0,12.5 0,16.4 C0,20.3 2.3,22.5 5.6,22.5 C8.9,22.5 11.2,20.3 11.2,16.4 C11.2,12.5 8.9,10.2 5.6,10.2 Z" transform="translate(1.25,1.25)"/><path d="M10.8,6.8 C10.8,10.8 8.6,13.4 5.4,13.4 C2.2,13.4 0,10.8 0,6.8 C0,2.6 2.2,0 5.4,0 C8.6,0 10.8,2.6 10.8,6.8 C10.8,13 8.5,18 4,22.5" transform="translate(18.75,1.25)"/></g>
<g transform="translate(851.5,35.1)" fill="none" stroke="#111" stroke-width="2.5" stroke-linecap="round" stroke-linejoin="round"><path d="M0,16.8 C1.4,14.5 3.3,14 5.25,15.5 C7.2,17 9.1,16.8 10.5,14.3" transform="translate(1.25,1.25)"/><path d="M6,0 L0,17.5 L13,17.5 M9.5,11.5 L9.5,22.5" transform="translate(18.55,1.25)"/><path d="M0.3,5 C0.3,2 2.5,0 5.6,0 C8.8,0 11,2 11,5.3 C11,9.5 8,12 0,22.5 L11.5,22.5" transform="translate(39.05,1.25)"/></g>
<line x1="920" y1="284.5" x2="978" y2="284.5" stroke="#1e1e1e" stroke-width="1.2" />
<line x1="920" y1="410.5" x2="978" y2="410.5" stroke="#1e1e1e" stroke-width="1.2" />
<line x1="969.5" y1="284.5" x2="969.5" y2="410.5" stroke="#1e1e1e" stroke-width="1.2" />
<polygon points="969.5,285 964.75,305 974.25,305" fill="#111"/>
<polygon points="969.5,410 964.75,390 974.25,390" fill="#111"/>
<g transform="translate(934,377.3) rotate(-90)" fill="none" stroke="#111" stroke-width="2.5" stroke-linecap="round" stroke-linejoin="round"><path d="M10.75,0 C16.7,0 21.5,5 21.5,11.25 C21.5,17.5 16.7,22.5 10.75,22.5 C4.8,22.5 0,17.5 0,11.25 C0,5 4.8,0 10.75,0 Z M20,-5.8 L0.3,29.2" transform="translate(1.25,1.25)"/><path d="M0,15.7 C0,11.7 2.2,9 5.5,9 C8.8,9 11,11.7 11,15.7 C11,19.9 8.8,22.5 5.5,22.5 C2.2,22.5 0,19.9 0,15.7 C0,9.5 2.5,4.5 7,0" transform="translate(30.25,1.25)"/><path d="M0.3,3.5 C1.5,1 3.3,0 5.2,0 C8.3,0 10,2.2 10,5.3 C10,8.5 8,10.3 4.3,10.3 C8.3,10.3 10.3,12.5 10.3,16.5 C10.3,20.3 8.2,22.5 5.1,22.5 C2.9,22.5 1.2,21.5 0,19.3" transform="translate(48.75,1.25)"/></g>
</svg></body></html>
